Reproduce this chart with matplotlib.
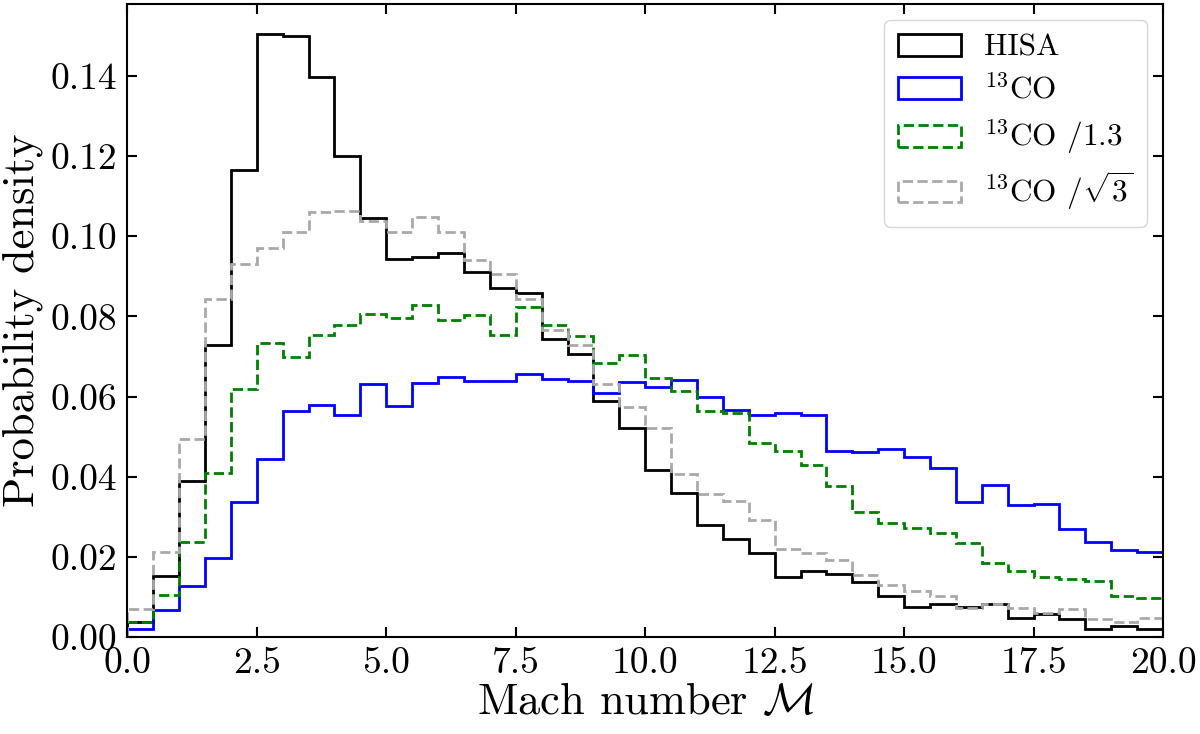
import numpy as np
import matplotlib
matplotlib.use('Agg')
import matplotlib.pyplot as plt

plt.rcParams['font.family'] = 'serif'
plt.rcParams['font.serif'] = ['cmr10']
plt.rcParams['mathtext.fontset'] = 'cm'
plt.rcParams['axes.formatter.use_mathtext'] = True

# bin edges of the Mach number histograms (width 0.5)
edges = np.arange(0, 20.01, 0.5)

# probability density per bin
hisa = [0.0039, 0.0153, 0.0391, 0.0730, 0.1166, 0.1504, 0.1499, 0.1396, 0.1201, 0.1045,
        0.0943, 0.0948, 0.0958, 0.0912, 0.0870, 0.0858, 0.0744, 0.0706, 0.0590, 0.0523,
        0.0417, 0.0361, 0.0281, 0.0244, 0.0210, 0.0150, 0.0166, 0.0158, 0.0139, 0.0103,
        0.0076, 0.0083, 0.0076, 0.0082, 0.0049, 0.0058, 0.0045, 0.0022, 0.0029, 0.0020]
co13 = [0.0020, 0.0068, 0.0129, 0.0199, 0.0337, 0.0444, 0.0564, 0.0579, 0.0555, 0.0631,
        0.0576, 0.0635, 0.0650, 0.0640, 0.0640, 0.0657, 0.0644, 0.0638, 0.0608, 0.0637,
        0.0625, 0.0642, 0.0600, 0.0567, 0.0554, 0.0560, 0.0554, 0.0465, 0.0462, 0.0470,
        0.0449, 0.0421, 0.0337, 0.0379, 0.0329, 0.0332, 0.0270, 0.0238, 0.0217, 0.0213]
co13_13 = [0.0039, 0.0105, 0.0238, 0.0409, 0.0618, 0.0733, 0.0700, 0.0754, 0.0779, 0.0806,
           0.0795, 0.0829, 0.0791, 0.0804, 0.0754, 0.0824, 0.0778, 0.0751, 0.0683, 0.0705,
           0.0646, 0.0615, 0.0564, 0.0559, 0.0485, 0.0465, 0.0430, 0.0377, 0.0312, 0.0284,
           0.0272, 0.0259, 0.0236, 0.0185, 0.0166, 0.0150, 0.0145, 0.0141, 0.0103, 0.0097]
co13_sqrt3 = [0.0071, 0.0213, 0.0495, 0.0843, 0.0930, 0.0971, 0.1011, 0.1060, 0.1062, 0.1038,
              0.1011, 0.1049, 0.1011, 0.0941, 0.0906, 0.0843, 0.0766, 0.0729, 0.0632, 0.0574,
              0.0521, 0.0407, 0.0357, 0.0340, 0.0292, 0.0219, 0.0211, 0.0193, 0.0155, 0.0131,
              0.0116, 0.0103, 0.0072, 0.0082, 0.0072, 0.0060, 0.0071, 0.0045, 0.0039, 0.0049]

fig = plt.figure(figsize=(12, 7.34), dpi=100)
ax = fig.add_axes([0.1061, 0.1317, 0.8631, 0.8629])

# step histograms, weighted by the density of each bin
left = edges[:-1]
ax.hist(left, bins=edges, weights=hisa, histtype='step', color='black', lw=2, label='HISA')
ax.hist(left, bins=edges, weights=co13, histtype='step', color='blue', lw=2, label=r'$^{13}$CO')
ax.hist(left, bins=edges, weights=co13_13, histtype='step', color='green', lw=2, ls='--',
        label=r'$^{13}$CO $/1.3$')
ax.hist(left, bins=edges, weights=co13_sqrt3, histtype='step', color='darkgray', lw=2, ls='--',
        label=r'$^{13}$CO $/\sqrt{3}$')

ax.set_xlim(0, 20)
ax.set_ylim(0, 1.05 * max(hisa))
ax.set_xticks(np.arange(0, 20.1, 2.5))
ax.set_yticks(np.arange(0, 0.141, 0.02))
ax.xaxis.set_major_formatter(matplotlib.ticker.FormatStrFormatter('%.1f'))
ax.yaxis.set_major_formatter(matplotlib.ticker.FormatStrFormatter('%.2f'))
ax.tick_params(direction='in', top=True, right=True, length=7, width=1.5, labelsize=27, pad=7)
for s in ax.spines.values():
    s.set_linewidth(1.5)

ax.set_xlabel(r'Mach number $\mathcal{M}$', fontsize=32, labelpad=2)
ax.set_ylabel('Probability density', fontsize=32, labelpad=6)

ax.legend(loc='upper right', fontsize=22.5, handlelength=2.0, handletextpad=0.75,
          borderpad=0.45, labelspacing=0.4)

fig.savefig('out.png', dpi=100)
